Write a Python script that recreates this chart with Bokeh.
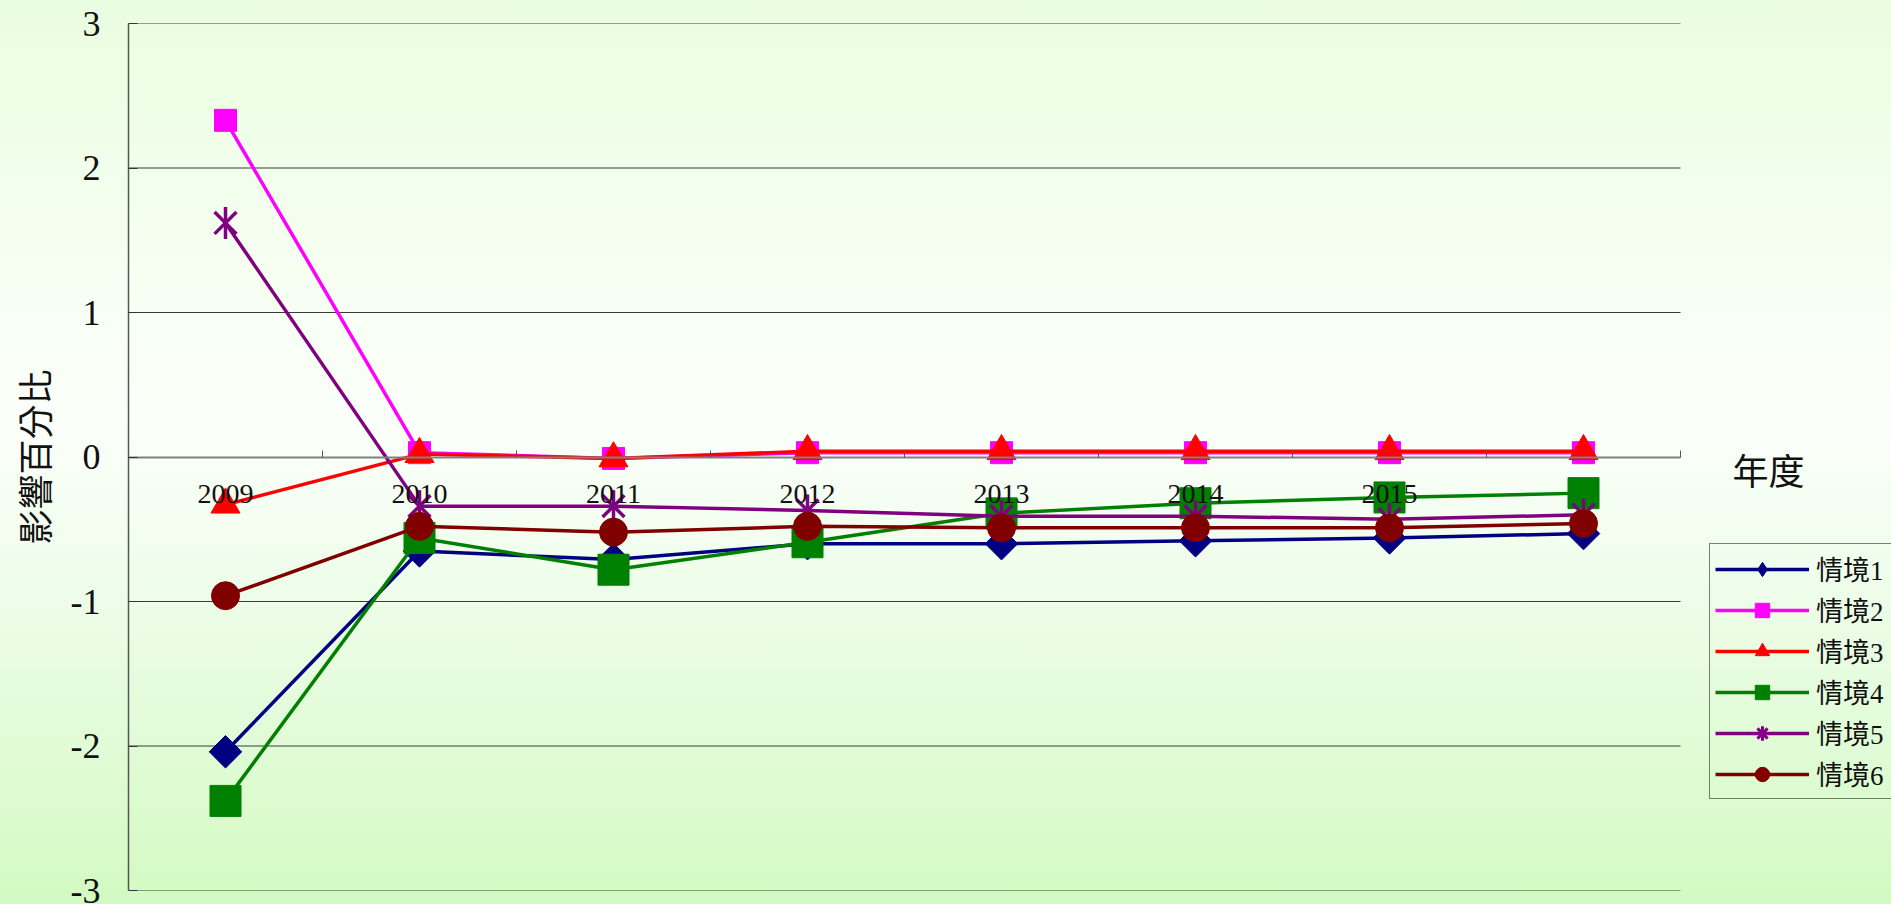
import numpy as np
from bokeh.plotting import figure
from bokeh.models import FixedTicker, Legend, LegendItem, Label, Range1d
from bokeh.embed import file_html
from bokeh.resources import INLINE

# ---- data ----
tick_labels = ["2009", "2010", "2011", "2012", "2013", "2014", "2015", ""]
series_names = ["情境1", "情境2", "情境3", "情境4", "情境5", "情境6"]
s1 = [-2.04, -0.65, -0.71, -0.60, -0.60, -0.58, -0.56, -0.53]
s2 = [2.33, 0.03, -0.01, 0.03, 0.03, 0.03, 0.03, 0.03]
s3 = [-0.33, 0.02, -0.01, 0.04, 0.04, 0.04, 0.04, 0.04]
s4 = [-2.38, -0.56, -0.78, -0.59, -0.39, -0.32, -0.28, -0.25]
s5 = [1.62, -0.34, -0.34, -0.37, -0.41, -0.41, -0.43, -0.40]
s6 = [-0.96, -0.48, -0.52, -0.48, -0.49, -0.49, -0.49, -0.46]
y_ticks = [-3, -2, -1, 0, 1, 2, 3]
y_tick_labels = ["-3", "-2", "-1", "0", "1", "2", "3"]
x_title = "年度"
y_title = "影響百分比"

n = len(tick_labels)
x = [i + 0.5 for i in range(n)]
bounds = list(range(n + 1))

# layout (pixels)
W, H = 1891, 904
LEFT, PLOT_RIGHT, TOP, BOTTOM = 128, 1680, 23, 890
x_end = n * (W - LEFT) / (PLOT_RIGHT - LEFT)

SERIF = "Liberation Serif"
CJK = "Noto Sans CJK TC"
MIX = "'Liberation Serif', 'Noto Sans CJK TC'"

p = figure(width=W, height=H, x_range=Range1d(0, x_end), y_range=Range1d(y_ticks[0], y_ticks[-1]),
           output_backend="svg", toolbar_location=None,
           min_border_left=LEFT, min_border_right=0, min_border_top=TOP, min_border_bottom=H - BOTTOM)
p.border_fill_color = None
p.background_fill_color = None
p.outline_line_color = None
p.styles = {"background": "linear-gradient(to bottom, #e9fde0 0%, #f6fff2 30%, #fbfffa 47%, #eefdea 65%, #d3fac2 100%)"}

# horizontal grid lines spanning only the category bands
grid_y = [t for t in y_ticks if t != 0]
p.segment(x0=[bounds[0]] * len(grid_y), x1=[bounds[-1]] * len(grid_y), y0=grid_y, y1=grid_y,
          line_color="#3a3a3a", line_width=1)
p.xgrid.visible = False
p.ygrid.visible = False

# x axis at y = 0
xa = p.xaxis[0]
xa.fixed_location = 0
xa.bounds = (bounds[0], bounds[-1])
xa.ticker = FixedTicker(ticks=x, minor_ticks=bounds)
xa.major_label_overrides = {xi: lab for xi, lab in zip(x, tick_labels)}
xa.major_tick_in = 0
xa.major_tick_out = 0
xa.minor_tick_in = 7
xa.minor_tick_out = 0
xa.minor_tick_line_color = "#555555"
xa.axis_line_color = "#808080"
xa.axis_line_width = 2
xa.major_label_standoff = 28
xa.major_label_text_font = SERIF
xa.major_label_text_font_size = "28px"
xa.major_label_text_color = "#111111"

ya = p.yaxis[0]
ya.ticker = FixedTicker(ticks=y_ticks, minor_ticks=[])
ya.major_label_overrides = {t: s for t, s in zip(y_ticks, y_tick_labels)}
ya.major_tick_in = 9
ya.major_tick_out = 0
ya.major_tick_line_color = "#333333"
ya.axis_line_color = "#555555"
ya.axis_line_width = 1.5
ya.major_label_standoff = 28
ya.major_label_text_font = SERIF
ya.major_label_text_font_size = "36px"
ya.major_label_text_color = "#111111"
ya.axis_label = y_title
ya.axis_label_text_font = CJK
ya.axis_label_text_font_size = "35px"
ya.axis_label_text_font_style = "normal"
ya.axis_label_text_color = "#111111"
ya.axis_label_standoff = 9

items = []
LW = 3.5

# 情境1
c = "#000080"
l = p.line(x, s1, line_color=c, line_width=LW)
p.scatter(x, s1, marker="square", angle=np.pi / 4, size=23, fill_color=c, line_color=c)
lg = p.scatter(x, s1, marker="diamond", size=0, fill_color=c, line_color=c)  # legend glyph only
items.append(LegendItem(label=series_names[0], renderers=[l, lg]))
# 情境2
c = "#ff00ff"
l = p.line(x, s2, line_color=c, line_width=LW)
m = p.scatter(x, s2, marker="square", size=22, fill_color=c, line_color=c)
items.append(LegendItem(label=series_names[1], renderers=[l, m]))
# 情境3
c = "#ff0000"
l = p.line(x, s3, line_color=c, line_width=LW)
m = p.scatter(x, s3, marker="triangle", size=29, fill_color=c, line_color=c)
items.append(LegendItem(label=series_names[2], renderers=[l, m]))
# 情境4
c = "#008000"
l = p.line(x, s4, line_color=c, line_width=LW)
m = p.scatter(x, s4, marker="square", size=31, fill_color=c, line_color=c)
items.append(LegendItem(label=series_names[3], renderers=[l, m]))
# 情境5
c = "#800080"
l = p.line(x, s5, line_color=c, line_width=LW)
p.scatter(x, s5, marker="x", size=31, line_color=c, line_width=3.5)
p.scatter(x, s5, marker="dash", angle=np.pi / 2, size=32, line_color=c, line_width=3.5)
lg = p.scatter(x, s5, marker="asterisk", size=0, line_color=c, line_width=3)  # legend glyph only
items.append(LegendItem(label=series_names[4], renderers=[l, lg]))
# 情境6
c = "#800000"
l = p.line(x, s6, line_color=c, line_width=LW)
m = p.scatter(x, s6, marker="circle", size=28, fill_color=c, line_color=c)
items.append(LegendItem(label=series_names[5], renderers=[l, m]))

legend = Legend(items=items, location=(1709 - LEFT, BOTTOM - 799), margin=0, padding=5, spacing=2,
                glyph_width=94, glyph_height=36, label_height=30, label_width=70, label_standoff=7,
                label_text_font=MIX, label_text_font_size="27px", label_text_color="#111111",
                border_line_color="#000000", border_line_width=1, background_fill_alpha=0)
p.add_layout(legend, "center")

p.add_layout(Label(x=1768 - LEFT, y=BOTTOM - 468, x_units="screen", y_units="screen", text=x_title,
                   text_align="center", text_baseline="middle",
                   text_font=CJK, text_font_size="36px", text_color="#111111"))

open("out.html", "w").write(file_html(p, INLINE))
